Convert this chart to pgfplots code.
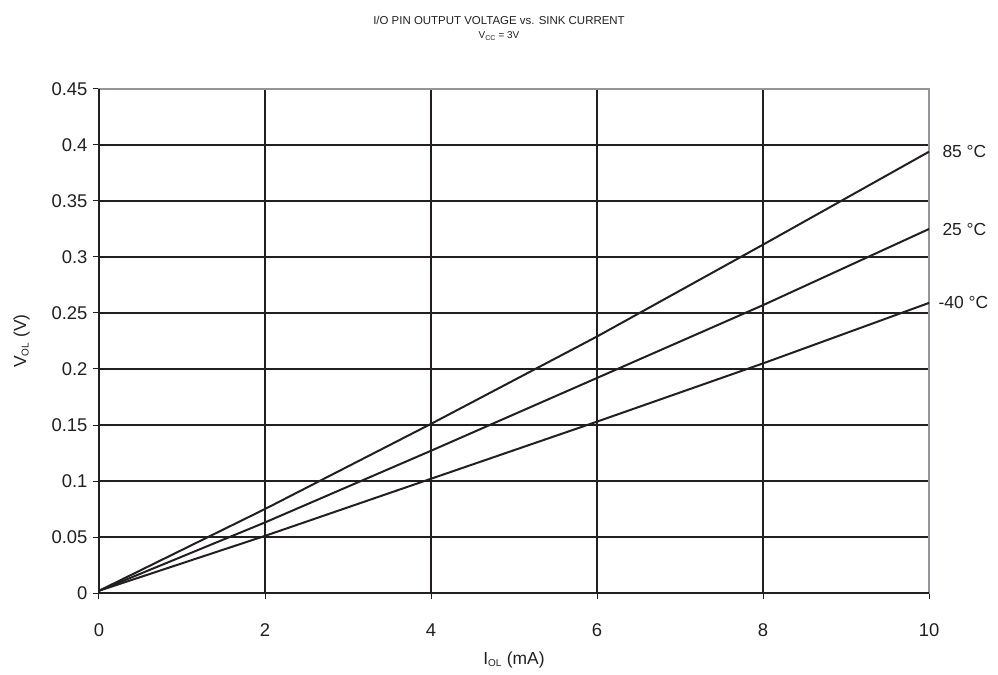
\documentclass[border=0pt]{standalone}
\usepackage{pgfplots}
\pgfplotsset{compat=1.18}
\usepackage{fontspec}
\setmainfont{Liberation Sans}
\definecolor{ink}{HTML}{231F20}
\definecolor{frame}{HTML}{939598}
\begin{document}
\begin{tikzpicture}
\useasboundingbox (-99bp,-82bp) rectangle (899bp,593bp);
\begin{axis}[
  at={(0,0)}, anchor=south west,
  scale only axis, width=830bp, height=504bp,
  xmin=0, xmax=10, ymin=0, ymax=0.45,
  xtick={0,2,4,6,8,10},
  ytick={0,0.05,0.1,0.15,0.2,0.25,0.3,0.35,0.4,0.45},
  yticklabels={0,0.05,0.1,0.15,0.2,0.25,0.3,0.35,0.4,0.45},
  xticklabels={0,2,4,6,8,10},
  grid=major,
  grid style={ink, line width=1.8bp},
  axis line style={frame, line width=2bp},
  tick align=outside, xtick pos=bottom, ytick pos=left,
  major tick length=6bp,
  tick style={ink, line width=1bp},
  tick label style={font=\fontsize{18.5}{21}\selectfont, text=ink},
  /pgf/number format/assume math mode=true,
  xticklabel style={yshift=-21bp},
  yticklabel style={xshift=-2bp},
  label style={font=\fontsize{17.5}{20}\selectfont, text=ink},
  xlabel={I\textsubscript{\fontsize{10}{12}\selectfont OL} (mA)},
  ylabel={V\textsubscript{\fontsize{10}{12}\selectfont OL} (V)},
  xlabel style={yshift=-8bp},
  ylabel style={yshift=15bp},
  clip=false,
]
\addplot[ink, line width=2bp] coordinates {(0,0.002) (2,0.075) (4,0.151) (6,0.229) (8,0.311) (10,0.394)};
\addplot[ink, line width=2bp] coordinates {(0,0.002) (2,0.063) (4,0.127) (6,0.192) (8,0.257) (10,0.325)};
\addplot[ink, line width=2bp] coordinates {(0,0.002) (2,0.051) (4,0.102) (6,0.153) (8,0.205) (10,0.259)};
\draw[ink, line width=2bp] (rel axis cs:0,1) -- (rel axis cs:0,0) -- (rel axis cs:1,0);
\node[anchor=west, font=\fontsize{17.5}{20}\selectfont, text=ink] at (axis cs:10,0.394) [xshift=10bp] {85 °C};
\node[anchor=west, font=\fontsize{17.5}{20}\selectfont, text=ink] at (axis cs:10,0.325) [xshift=10bp] {25 °C};
\node[anchor=west, font=\fontsize{17.5}{20}\selectfont, text=ink] at (axis cs:10,0.259) [xshift=6bp] {-40 °C};
\end{axis}
\node[font=\fontsize{11.5}{13}\selectfont, text=ink] at (400bp,573bp) {I/O PIN OUTPUT VOLTAGE vs. SINK CURRENT};
\node[font=\fontsize{10}{12}\selectfont, text=ink] at (400bp,557bp) {V\textsubscript{\fontsize{7}{8}\selectfont CC} = 3V};
\end{tikzpicture}
\end{document}
